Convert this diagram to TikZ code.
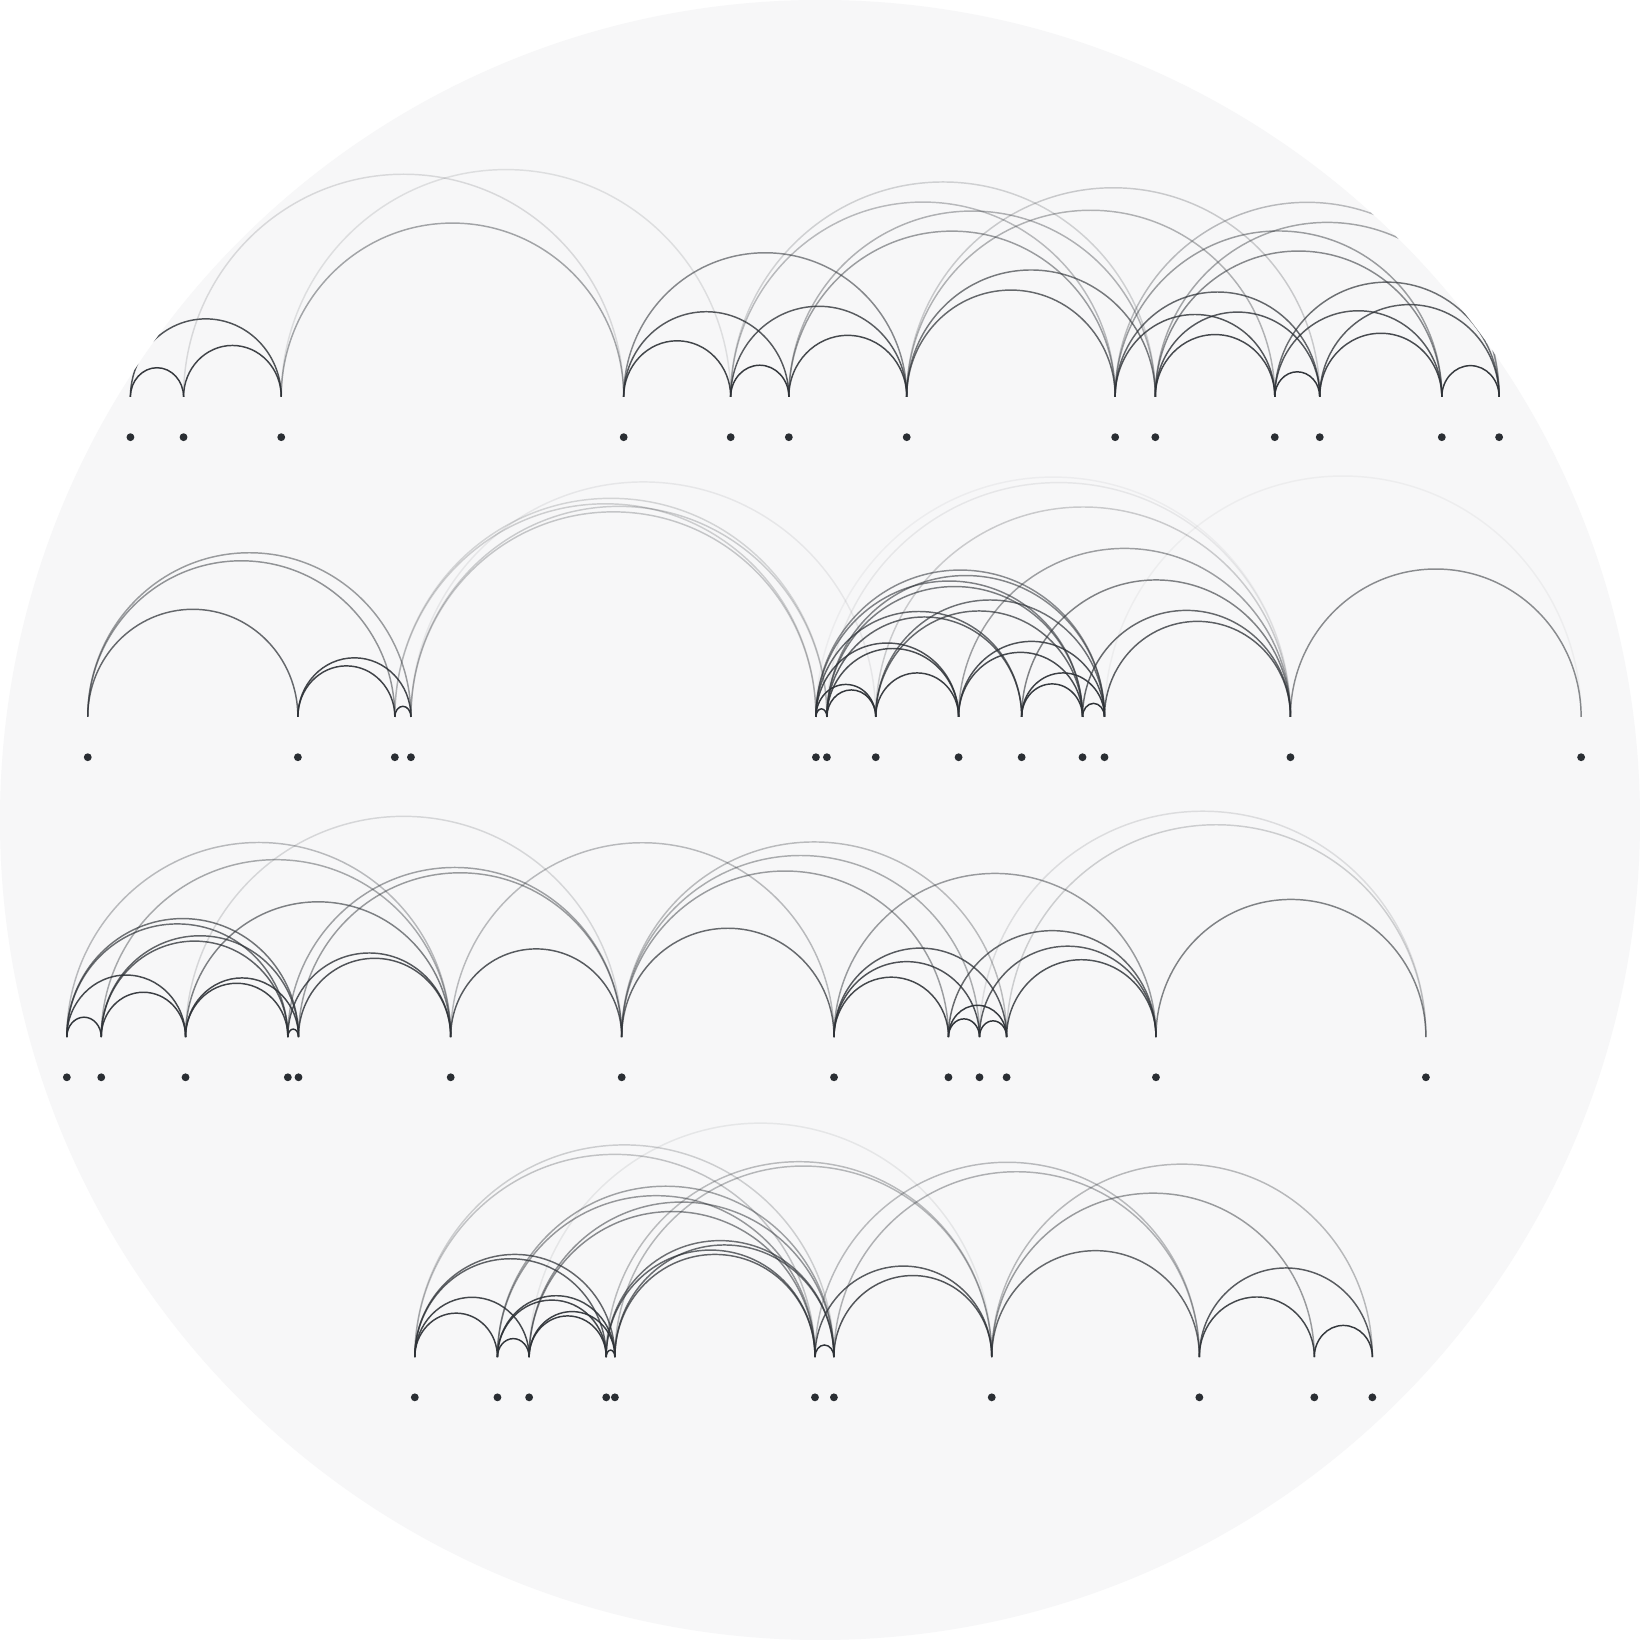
\documentclass[tikz,border=0pt]{standalone}
\definecolor{bgc}{HTML}{F7F7F8}
\definecolor{ink}{HTML}{2E3237}
\definecolor{dotc}{HTML}{2A2E33}
\newdimen\arcxa
\newdimen\arcxb
\newcommand\arcdraw[2]{%
  \pgfextractx{\arcxa}{\pgfpointanchor{#1}{center}}%
  \pgfextractx{\arcxb}{\pgfpointanchor{#2}{center}}%
  \pgfmathsetmacro\arcrad{(\arcxb-\arcxa)/2}%
  \pgfmathsetmacro\arcrady{\arcrad+2.5}%
  \pgfmathsetmacro\arcopa{max(0.04,1-pow((\arcxb-\arcxa)/470,1.5))}%
  \draw[arcline,draw opacity=\arcopa] (#1) arc[start angle=180,end angle=0,x radius=\arcrad pt,y radius=\arcrady pt];%
}
\tikzset{
  arcline/.style={draw=ink,line width=1.4pt},
  dotn/.style={circle,fill=dotc,inner sep=0pt,minimum size=7.5pt}
}
\begin{document}
\begin{tikzpicture}[x=1pt,y=1pt]
\useasboundingbox (0,0) rectangle (1568,1568);
\fill[white] (0,0) rectangle (1568,1568);
\fill[bgc] (784,784) circle[radius=784];
% row 1
\foreach \n/\x in {a/124.7,b/175.5,c/268.9,d/596.3,e/698.6,f/754.2,g/866.9,h/1066.2,i/1104.6,j/1218.8,k/1261.8,l/1378.5,m/1433.3}
  {\coordinate (b1\n) at (\x,1188.5); \node[dotn] (d1\n) at (\x,1150) {};}
% row 2
\foreach \n/\x in {a/83.9,b/284.8,c/377.5,d/392.9,e/780.1,f/790.6,g/837.3,h/916.5,i/976.8,j/1035,k/1056,l/1233.8,m/1511.7}
  {\coordinate (b2\n) at (\x,882.5); \node[dotn] (d2\n) at (\x,844) {};}
% row 3
\foreach \n/\x in {a/63.9,b/96.8,c/177.4,d/275.2,e/285.4,f/430.9,g/594.4,h/797.4,i/906.8,j/936.5,k/962.4,l/1105.2,m/1363.3}
  {\coordinate (b3\n) at (\x,576.5); \node[dotn] (d3\n) at (\x,538) {};}
% row 4
\foreach \n/\x in {a/396.6,b/475.6,c/505.9,d/579.6,e/587.9,f/779.2,g/797.3,h/948.2,i/1146.7,j/1256.6,k/1312.1}
  {\coordinate (b4\n) at (\x,270.5); \node[dotn] (d4\n) at (\x,232) {};}
\begin{scope}
\clip (784,784) circle[radius=784];
\foreach \u/\v in {a/b,a/c,b/c,b/d,c/d,c/e,d/e,d/f,d/g,e/f,e/g,e/h,e/i,f/g,f/h,f/i,g/h,g/i,g/j,g/k,h/j,h/k,h/l,h/m,i/j,i/k,i/l,i/m,j/k,j/l,j/m,k/l,k/m,l/m}
  {\arcdraw{b1\u}{b1\v}}
\foreach \u/\v in {a/b,a/c,a/d,b/c,b/d,c/d,c/e,c/f,d/e,d/f,d/g,e/f,e/g,e/h,e/i,e/j,e/k,e/l,f/g,f/h,f/i,f/j,f/k,f/l,g/h,g/j,g/k,g/l,h/j,h/k,h/l,i/j,i/k,i/l,j/k,j/l,k/l,k/m,l/m}
  {\arcdraw{b2\u}{b2\v}}
\foreach \u/\v in {a/b,a/c,a/d,a/e,a/f,b/c,b/d,b/e,b/f,c/d,c/e,c/f,c/g,d/e,d/f,d/g,e/f,e/g,f/g,f/h,g/h,g/i,g/j,g/k,h/i,h/j,h/k,h/l,i/j,i/k,i/l,j/k,j/l,j/m,k/l,k/m,l/m}
  {\arcdraw{b3\u}{b3\v}}
\foreach \u/\v in {a/b,a/c,a/d,a/e,a/f,a/g,b/c,b/d,b/e,b/f,b/g,c/d,c/e,c/f,c/g,c/h,d/e,d/f,d/g,d/h,e/f,e/g,e/h,f/g,f/h,f/i,g/h,g/i,h/i,h/j,h/k,i/j,i/k,j/k}
  {\arcdraw{b4\u}{b4\v}}
\end{scope}
\end{tikzpicture}
\end{document}
